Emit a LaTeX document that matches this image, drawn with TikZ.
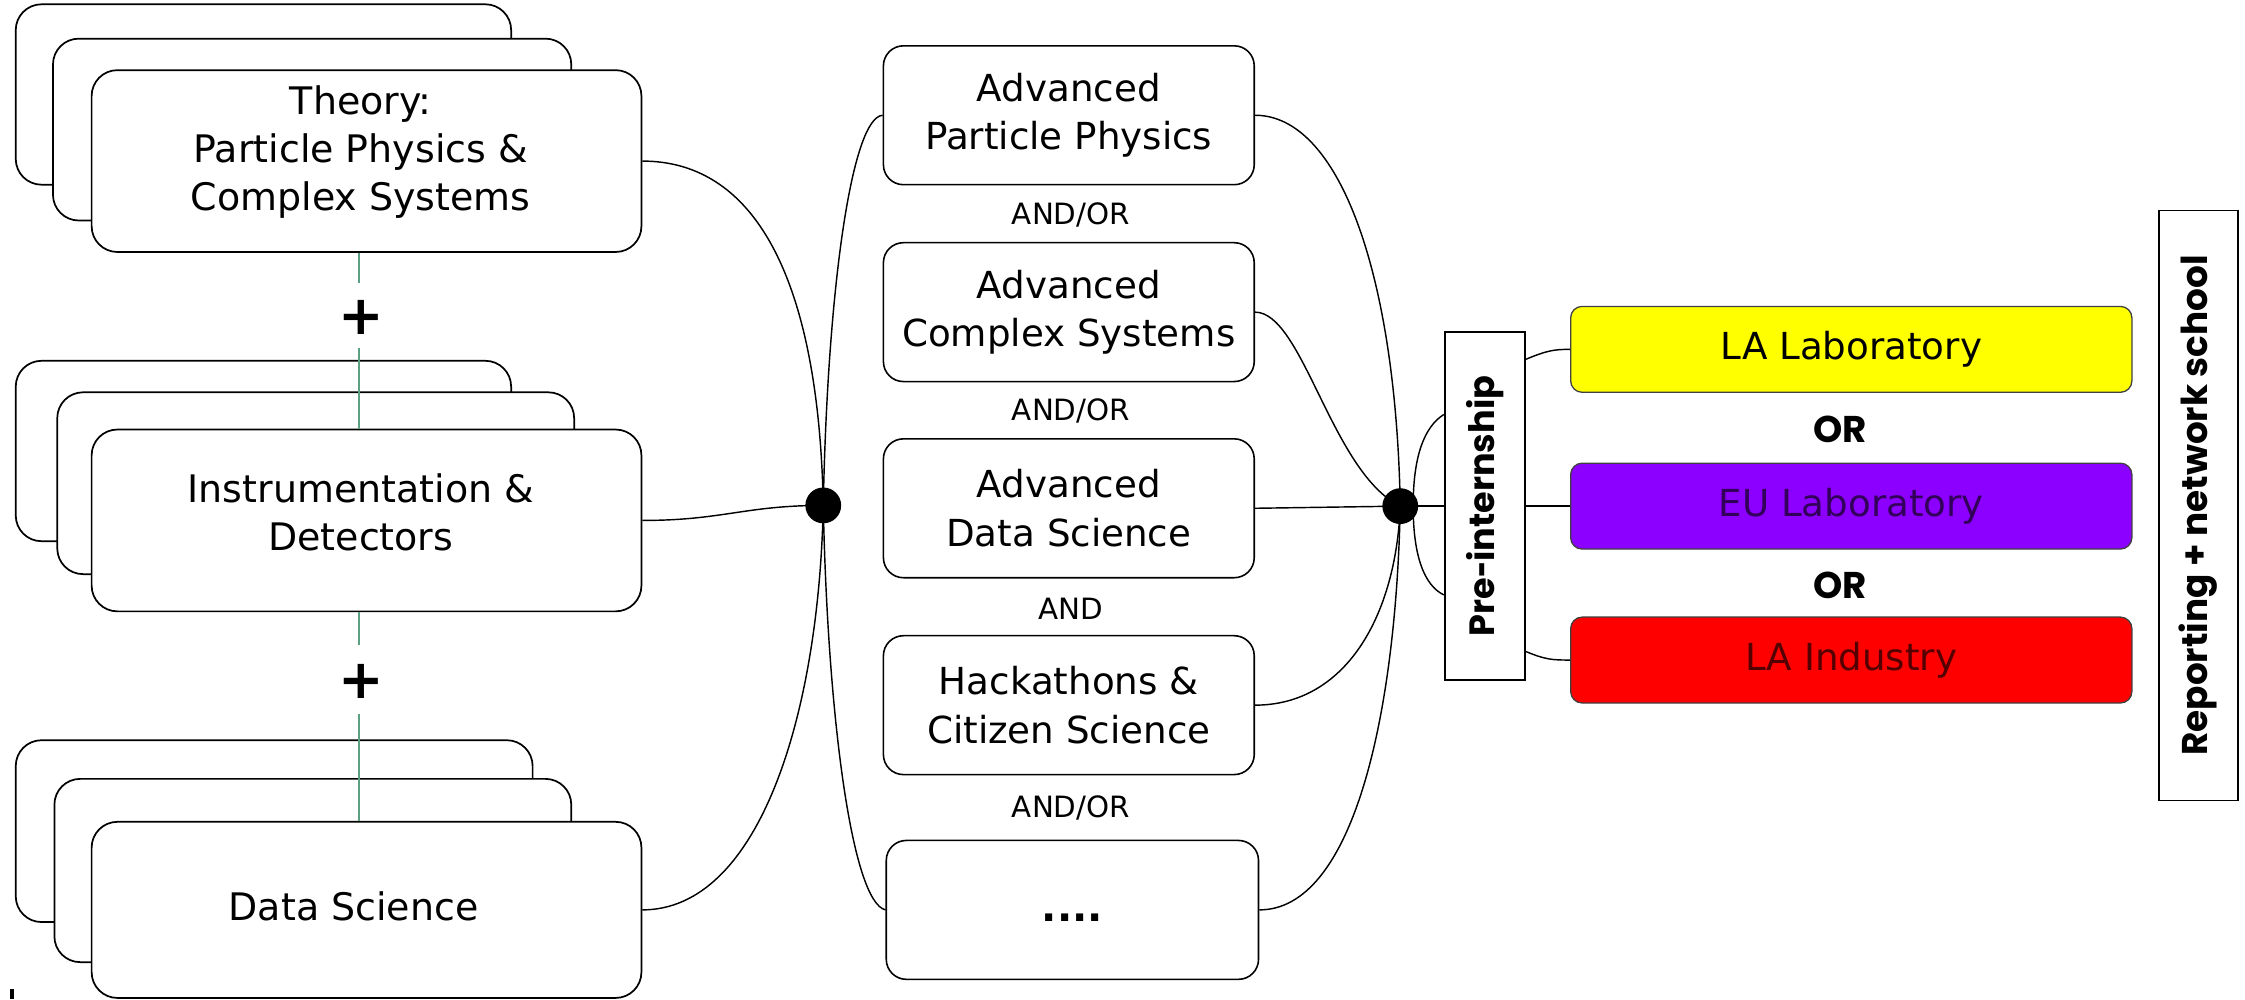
\documentclass[tikz,border=0pt]{standalone}
\usepackage{fontspec}
\setmainfont{DejaVu Sans}
\newfontfamily\popfont{Poppins}
\usetikzlibrary{calc}
\definecolor{gline}{RGB}{90,160,130}
\definecolor{ylw}{RGB}{255,255,0}
\definecolor{prp}{RGB}{140,0,255}
\definecolor{rd}{RGB}{255,0,0}
\definecolor{eutext}{RGB}{50,0,90}
\definecolor{litext}{RGB}{85,0,0}
\newcommand{\shorthy}{\scalebox{0.8}[1]{-}}
\begin{document}
\begin{tikzpicture}[x=1pt,y=-1pt,
  stackbox/.style={draw, line width=1.2pt, rounded corners=18pt, fill=white, inner sep=0pt},
  midbox/.style={draw, line width=1.1pt, rounded corners=14pt, fill=white, minimum width=259pt, minimum height=97pt, align=center, font=\fontsize{26}{34}\selectfont, inner sep=0pt},
  colbox/.style={draw, line width=0.9pt, rounded corners=8pt, minimum width=392pt, minimum height=60pt, font=\fontsize{26}{30}\selectfont, inner sep=0pt},
  vbox/.style={draw, line width=1.2pt, fill=white, inner sep=0pt},
  lbl/.style={align=center, font=\fontsize{26.5}{33.5}\selectfont, inner sep=0pt},
  small/.style={font=\fontsize{20.5}{22}\selectfont, inner sep=0pt},
  orlbl/.style={font=\popfont\bfseries\fontsize{26}{30}\selectfont, inner sep=0pt},
  conn/.style={line width=1pt},
  gconn/.style={draw=gline, line width=1.3pt},
  plus/.style={font=\bfseries\fontsize{38}{38}\selectfont, inner sep=0pt},
  dot/.style={circle, fill=black, minimum size=25pt, inner sep=0pt},
]
\useasboundingbox (0,0) rectangle (1568,698);

% ---- left stacks ----
\node[stackbox, minimum width=346pt, minimum height=126pt] (ta) at (184,66) {};
\node[stackbox, minimum width=362pt, minimum height=127pt] (tb) at (218,90.5) {};
\node[stackbox, minimum width=384pt, minimum height=127pt] (tc) at (256,112.5) {};
\node[lbl] (tt) at (252,106) {Theory:\\Particle Physics \&\\Complex Systems};

\node[stackbox, minimum width=346pt, minimum height=126pt] (ia) at (184,315) {};
\node[stackbox, minimum width=361pt, minimum height=127pt] (ib) at (220.5,337.5) {};
\node[stackbox, minimum width=384pt, minimum height=127pt] (ic) at (256,363.5) {};
\node[lbl] (it) at (252,358) {Instrumentation \&\\Detectors};

\node[stackbox, minimum width=361pt, minimum height=127pt] (da) at (191.5,580.5) {};
\node[stackbox, minimum width=361pt, minimum height=128pt] (db) at (218.5,608) {};
\node[stackbox, minimum width=384pt, minimum height=123pt] (dc) at (256,635.5) {};
\node[lbl] (dt) at (247,633) {Data Science};

% green links and plus signs
\draw[gconn] ([xshift=-5pt]tc.south) -- ++(0,21);
\draw[gconn] ([xshift=-5pt]ic.north) -- ++(0,-56);
\draw[gconn] ([xshift=-5pt]ic.south) -- ++(0,23);
\draw[gconn] ([xshift=-5pt]dc.north) -- ++(0,-75);
\node[plus] (p1) at (252,222) {+};
\node[plus] (p2) at (252,476) {+};
\fill (7,691) rectangle (10,698);

% ---- middle boxes ----
\node[midbox] (m1) at (746.5,80.5) {Advanced\\Particle Physics};
\node[midbox] (m2) at (746.5,218) {Advanced\\Complex Systems};
\node[midbox] (m3) at (746.5,355) {Advanced\\Data Science};
\node[midbox] (m4) at (746.5,492.5) {Hackathons \&\\Citizen Science};
\node[midbox, minimum width=260pt] (m5) at (749,635.5) {};
\node[font=\bfseries\fontsize{28}{30}\selectfont, inner sep=0pt] (m5t) at (749,641) {....};

\node[small] (a1) at (748,150) {AND/OR};
\node[small] (a2) at (748,287) {AND/OR};
\node[small] (a3) at (748,425) {AND};
\node[small] (a4) at (748,564) {AND/OR};

% ---- right part ----
\node[vbox, minimum width=56pt, minimum height=243pt, font=\popfont\bfseries\fontsize{24.5}{28}\selectfont] (pi) at (1037,353.5) {\rotatebox{90}{Pre\shorthy internship}};
\node[vbox, minimum width=55pt, minimum height=412pt, font=\popfont\bfseries\fontsize{25}{28}\selectfont] (rep) at (1535.5,353) {\rotatebox{90}{Reporting + network school}};

\node[colbox, fill=ylw, draw=black!75] (yl) at (1293,244) {LA Laboratory};
\node[colbox, fill=prp, draw=black!75, text=eutext] (eu) at (1293,353.5) {EU Laboratory};
\node[colbox, fill=rd, draw=black!75, text=litext] (li) at (1293,461) {LA Industry};
\node[orlbl] (or1) at (1285,300) {OR};
\node[orlbl] (or2) at (1285,409) {OR};

\coordinate (Lc) at (575,353);
\coordinate (Rc) at (978,353.5);
\coordinate (pu) at ($(pi.west)+(0,-64)$);
\coordinate (pd) at ($(pi.west)+(0,62)$);
\coordinate (pru) at ($(pi.east)+(0,-102.5)$);
\coordinate (prd) at ($(pi.east)+(0,101.5)$);

% ---- connectors ----
\draw[conn] (tc.east) .. controls (530,112.5) and (572,200) .. (Lc);
\draw[conn] (ic.east) .. controls (505,363.5) and (520,353) .. (Lc);
\draw[conn] (dc.east) .. controls (530,635.5) and (572,500) .. (Lc);
\draw[conn] (Lc) .. controls (578,200) and (595,82) .. (m1.west);
\draw[conn] (Lc) .. controls (578,500) and (595,630) .. (m5.west);

\draw[conn] (m1.east) .. controls (935,80.5) and (975,190) .. (Rc);
\draw[conn] (m2.east) .. controls (910,218) and (930,330) .. (Rc);
\draw[conn] (m3.east) -- (Rc);
\draw[conn] (m4.east) .. controls (940,492.5) and (975,430) .. (Rc);
\draw[conn] (m5.east) .. controls (945,635.5) and (975,500) .. (Rc);

\draw[conn] (Rc) ++(9,0) .. controls (987,318) and (995,298) .. (pu);
\draw[conn] (Rc) -- (pi.west);
\draw[conn] (Rc) ++(9,0) .. controls (987,389) and (995,409) .. (pd);

\draw[conn] (pru) .. controls (1080,245) and (1085,244) .. (yl.west);
\draw[conn] (pi.east) -- (eu.west);
\draw[conn] (prd) .. controls (1080,461) and (1085,461) .. (li.west);

\node[dot] (L) at (Lc) {};
\node[dot] (R) at (Rc) {};
\end{tikzpicture}
\end{document}
